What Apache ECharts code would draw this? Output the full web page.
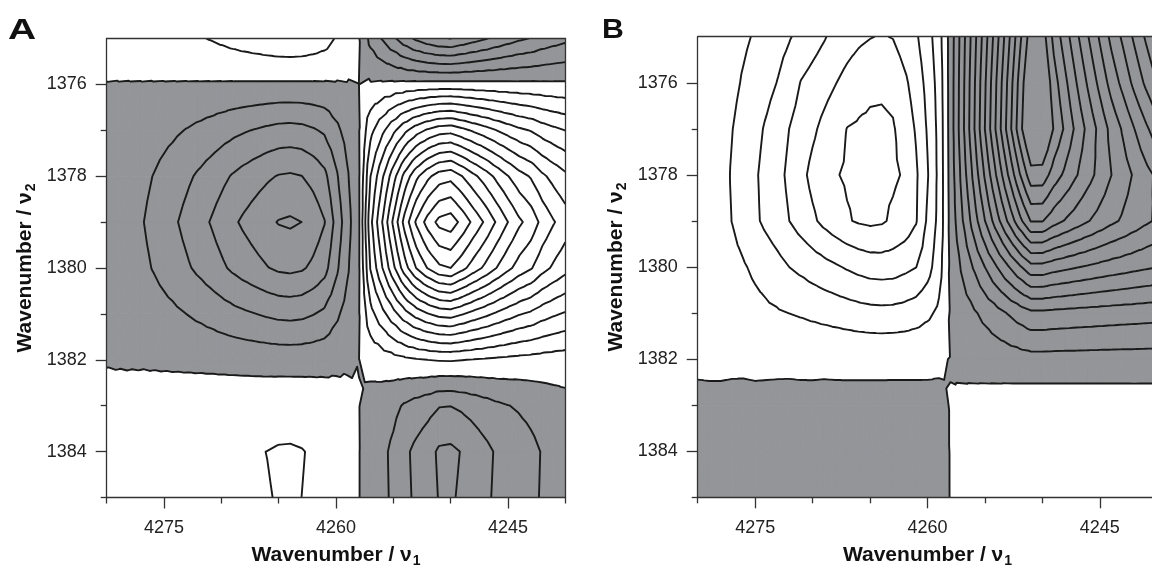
<!DOCTYPE html>
<html><head><meta charset="utf-8">
<script src="https://cdn.jsdelivr.net/npm/echarts@6/dist/echarts.min.js"></script>
<style>html,body{margin:0;padding:0;background:#fff;}#c{width:1152px;height:568px;}</style>
</head><body><div id="c"></div>
<script>
// ---------- data ----------
const rowsY = [1375,1376,1377,1378,1379,1380,1381,1382,1383,1384,1385];

// Panel A : rows 1375..1382 -> aXProfile * aYProfile ; rows 1383..1385 -> aXProfileBottom * aYProfileBottom
const aColumns = [4280,4279,4278,4277,4276,4275,4274,4273,4272,4271,4270,4269,4268,4267,4266,4265,4264,4263,4262,4261,4260,4259,4258,4257,4256,4255,4254,4253,4252,4251,4250,4249,4248,4247,4246,4245,4244,4243,4242,4241,4240];
const aXProfile = [-0.35,-0.55,-0.75,-0.92,-1.25,-1.58,-1.92,-2.28,-2.65,-3.02,-3.43,-3.84,-4.18,-4.49,-4.8,-5.05,-5.13,-5.0,-4.6,-4.04,-2.71,-1.37,-0.15,3.7,5.94,8.2,10.4,12.15,13.4,14.3,14.55,13.7,12.74,11.86,10.9,10.0,9.17,8.6,7.7,7.06,6.5];
const aYProfile = [-0.345,0.025,0.458,0.803,1.0,0.825,0.444,0.075];
const aXProfileBottom = [0.2,0.25,0.32,0.4,0.5,0.58,0.65,0.72,0.78,0.84,0.88,0.92,0.95,0.97,1.005,1.06,1.07,1.03,0.93,0.8,0.6,0.32,0.03,-0.5,-0.78,-1.2,-1.8,-2.25,-2.65,-3.15,-3.2,-2.95,-2.6,-2.25,-1.9,-1.65,-1.45,-1.22,-0.95,-0.7,-0.5];
const aYProfileBottom = [0.62,1.0,0.97];
const aLevels = [-5,-4,-3,-2,-1,0,1,2,3,4,5,6,7,8,9,10,11,12,13,14];

// Panel B, positive lobe (columns 4280..4259), one array per row
const bLeftColumns = [4280,4279,4278,4277,4276,4275,4274,4273,4272,4271,4270,4269,4268,4267,4266,4265,4264,4263,4262,4261,4260,4259];
const bLeft1375 = [0.05,0.25,0.45,0.65,0.85,1.09,1.37,1.66,1.94,2.26,2.59,2.92,3.3,3.58,3.8,3.96,4.06,3.96,3.5,3.13,2.42,1.4];
const bLeft1376 = [0.1,0.3,0.5,0.78,1.1,1.4,1.7,2.05,2.5,3.05,3.35,3.65,3.97,4.3,4.6,4.8,4.85,4.75,4.2,3.55,2.7,1.6];
const bLeft1377 = [0.15,0.4,0.65,0.98,1.35,1.73,2.13,2.56,3.02,3.42,3.83,4.25,4.63,5.02,5.12,5.18,5.17,5.08,4.62,3.9,2.9,1.7];
const bLeft1378 = [0.1,0.35,0.67,1.08,1.48,1.89,2.31,2.74,3.21,3.74,4.26,4.6,4.95,5.1,5.17,5.2,5.19,5.13,4.92,4.15,3.08,1.73];
const bLeft1379 = [0.05,0.35,0.68,1.02,1.42,1.84,2.23,2.6,3.01,3.42,3.83,4.25,4.6,4.92,5.1,5.19,5.12,4.85,4.6,4.08,2.85,1.7];
const bLeft1380 = [0.02,0.2,0.45,0.7,0.92,1.18,1.42,1.7,2.01,2.22,2.45,2.67,2.88,3.1,3.3,3.45,3.49,3.45,3.25,3.02,2.4,1.4];
const bLeft1381 = [0.02,0.1,0.25,0.4,0.55,0.7,0.82,0.92,1.01,1.1,1.2,1.3,1.4,1.5,1.6,1.67,1.7,1.68,1.6,1.45,1.2,0.8];
const bLeft1382 = [0.08,0.09,0.1,0.09,0.08,0.09,0.1,0.1,0.09,0.1,0.11,0.1,0.1,0.11,0.11,0.11,0.11,0.1,0.1,0.1,0.09,0.07];
const bLeft1383 = [-0.1,-0.1,-0.11,-0.12,-0.11,-0.1,-0.12,-0.13,-0.12,-0.12,-0.13,-0.13,-0.12,-0.13,-0.13,-0.13,-0.13,-0.12,-0.12,-0.12,-0.11,-0.1];
const bLeft1384 = [-0.2,-0.22,-0.25,-0.27,-0.28,-0.3,-0.31,-0.32,-0.33,-0.34,-0.34,-0.35,-0.35,-0.36,-0.36,-0.36,-0.36,-0.35,-0.34,-0.32,-0.28,-0.2];
const bLeft1385 = [-0.25,-0.27,-0.3,-0.32,-0.34,-0.36,-0.37,-0.38,-0.39,-0.4,-0.4,-0.41,-0.41,-0.42,-0.42,-0.42,-0.42,-0.41,-0.4,-0.37,-0.32,-0.24];
// Panel B, negative lobe (columns 4258..4240): magnitudes, value = -bRightRow[col]
const bRightColumns = [4258,4257,4256,4255,4254,4253,4252,4251,4250,4249,4248,4247,4246,4245,4244,4243,4242,4241,4240];
const bRight1375 = [0.41,2.46,4.51,6.56,8.61,10.67,12.7,14.55,14.51,12.7,11.44,10.19,9.01,7.87,6.74,5.81,4.82,3.87,3.02];
const bRight1376 = [0.43,2.57,4.72,6.87,9.02,11.16,13.3,15.23,15.18,13.43,12.2,10.97,9.82,8.71,7.62,6.7,5.73,4.81,3.96];
const bRight1377 = [0.43,2.62,4.81,7.02,9.19,11.38,13.55,15.52,15.49,13.91,12.8,11.7,10.68,9.68,8.69,7.88,7.01,6.19,5.43];
const bRight1378 = [0.38,2.3,4.22,6.14,8.06,9.98,11.88,13.61,13.58,12.52,11.77,11.04,10.34,9.68,9.01,8.45,7.88,7.32,6.81];
const bRight1379 = [0.31,1.87,3.43,4.99,6.55,8.11,9.66,11.06,11.05,10.39,9.92,9.47,9.04,8.63,8.22,7.87,7.52,7.17,6.86];
const bRight1380 = [0.19,1.13,2.07,3.01,3.95,4.9,5.83,6.68,6.67,6.41,6.23,6.05,5.88,5.71,5.55,5.42,5.27,5.14,5.01];
const bRight1381 = [0.08,0.47,0.86,1.26,1.65,2.05,2.44,2.79,2.79,2.72,2.68,2.63,2.59,2.55,2.51,2.47,2.44,2.4,2.37];
const bRight1382 = [0.02,0.11,0.2,0.29,0.38,0.48,0.57,0.65,0.65,0.64,0.63,0.63,0.62,0.61,0.61,0.6,0.6,0.59,0.59];
const bRight1383 = [-0.02,-0.1,-0.18,-0.26,-0.34,-0.43,-0.51,-0.58,-0.58,-0.57,-0.56,-0.56,-0.55,-0.55,-0.54,-0.54,-0.53,-0.53,-0.52];
const bRight1384 = [-0.02,-0.12,-0.23,-0.33,-0.43,-0.54,-0.64,-0.73,-0.73,-0.72,-0.71,-0.7,-0.69,-0.69,-0.68,-0.67,-0.67,-0.66,-0.65];
const bRight1385 = [-0.02,-0.13,-0.24,-0.35,-0.46,-0.57,-0.68,-0.78,-0.78,-0.77,-0.76,-0.75,-0.74,-0.73,-0.72,-0.72,-0.71,-0.7,-0.7];
const bLevels = [-14,-13,-12,-11,-10,-9,-8,-7,-6,-5,-4,-3,-2,-1,0,1,2,3,4,5];

// axis ticks
const xTickLabels = [4275,4260,4245];
const xMinorTicks = [4280,4270,4265,4255,4250,4240];
const yTickLabels = [1376,1378,1380,1382,1384];
const yMinorTicks = [1377,1379,1381,1383,1385];

// ---------- build grids ----------
const zA = rowsY.map((y, j) => j < aYProfile.length
  ? aXProfile.map(g => g * aYProfile[j])
  : aXProfileBottom.map(g => g * aYProfileBottom[j - aYProfile.length]));
const bLeftRows = [bLeft1375,bLeft1376,bLeft1377,bLeft1378,bLeft1379,bLeft1380,bLeft1381,bLeft1382,bLeft1383,bLeft1384,bLeft1385];
const bRightRows = [bRight1375,bRight1376,bRight1377,bRight1378,bRight1379,bRight1380,bRight1381,bRight1382,bRight1383,bRight1384,bRight1385];
const bColumns = bLeftColumns.concat(bRightColumns);
const zB = rowsY.map((y, j) => bLeftRows[j].concat(bRightRows[j].map(v => -v)));

function contour(xs, ys, Z, levels) {
  const tris = [];
  for (let j = 0; j < ys.length - 1; j++) for (let i = 0; i < xs.length - 1; i++) {
    const v = [
      {id: 'g' + i + '_' + j, x: xs[i], y: ys[j], z: Z[j][i]},
      {id: 'g' + (i + 1) + '_' + j, x: xs[i + 1], y: ys[j], z: Z[j][i + 1]},
      {id: 'g' + (i + 1) + '_' + (j + 1), x: xs[i + 1], y: ys[j + 1], z: Z[j + 1][i + 1]},
      {id: 'g' + i + '_' + (j + 1), x: xs[i], y: ys[j + 1], z: Z[j + 1][i]}];
    const c = {id: 'c' + i + '_' + j, x: (xs[i] + xs[i + 1]) / 2, y: (ys[j] + ys[j + 1]) / 2,
      z: (v[0].z + v[1].z + v[2].z + v[3].z) / 4};
    for (let k = 0; k < 4; k++) tris.push([v[k], v[(k + 1) % 4], c]);
  }
  const fills = [];
  for (const t of tris) {
    const poly = [];
    for (let k = 0; k < 3; k++) {
      const a = t[k], b = t[(k + 1) % 3];
      if (a.z < 0) poly.push([a.x, a.y]);
      if ((a.z < 0) !== (b.z < 0)) {
        const f = (0 - a.z) / (b.z - a.z);
        poly.push([a.x + f * (b.x - a.x), a.y + f * (b.y - a.y)]);
      }
    }
    if (poly.length >= 3) fills.push(poly);
  }
  const lines = [];
  for (const L of levels) {
    const segs = [];
    for (const t of tris) {
      const pts = [];
      for (let k = 0; k < 3; k++) {
        const a = t[k], b = t[(k + 1) % 3];
        if ((a.z > L) !== (b.z > L)) {
          const p = a.id < b.id ? a : b, q = a.id < b.id ? b : a;
          const f = (L - p.z) / (q.z - p.z);
          pts.push({key: p.id + '|' + q.id, x: p.x + f * (q.x - p.x), y: p.y + f * (q.y - p.y)});
        }
      }
      if (pts.length === 2) segs.push(pts);
    }
    const adj = new Map();
    segs.forEach((s, idx) => s.forEach(p => { if (!adj.has(p.key)) adj.set(p.key, []); adj.get(p.key).push(idx); }));
    const used = new Array(segs.length).fill(false);
    const nextSeg = (key) => (adj.get(key) || []).find(ix => !used[ix]);
    for (let s0 = 0; s0 < segs.length; s0++) {
      if (used[s0]) continue;
      used[s0] = true;
      const chain = [segs[s0][0], segs[s0][1]];
      let ix;
      while ((ix = nextSeg(chain[chain.length - 1].key)) !== undefined) {
        used[ix] = true;
        const s = segs[ix];
        chain.push(s[0].key === chain[chain.length - 1].key ? s[1] : s[0]);
      }
      while ((ix = nextSeg(chain[0].key)) !== undefined) {
        used[ix] = true;
        const s = segs[ix];
        chain.unshift(s[0].key === chain[0].key ? s[1] : s[0]);
      }
      lines.push(chain.map(p => [p.x, p.y]));
    }
  }
  return {fills, lines};
}

const cA = contour(aColumns, rowsY, zA, aLevels);
const cB = contour(bColumns, rowsY, zB, bLevels);

// ---------- chart ----------
const FONT = 'Liberation Sans, Arial, Helvetica, sans-serif';
const AX = '#333333';
const GREY = '#939598';
const INK = '#1a1a1a';
const plain = v => String(v);
const titleRich = {
  a: {fontSize: 21, fontWeight: 'bold', fontFamily: FONT, color: '#111', lineHeight: 26},
  b: {fontSize: 14, fontWeight: 'bold', fontFamily: FONT, color: '#111', lineHeight: 16, padding: [11, 0, 0, 1]}
};

function xAxes(g) {
  return [
    {gridIndex: g, type: 'value', min: 4240, max: 4280, inverse: true, position: 'bottom', z: 10,
      axisLine: {show: true, onZero: false, lineStyle: {color: AX, width: 1.3}},
      axisTick: {show: true, customValues: xTickLabels, length: 11, lineStyle: {color: AX, width: 1.3}},
      axisLabel: {show: true, customValues: xTickLabels, formatter: plain, fontSize: 18, color: '#222', margin: 22, fontFamily: FONT},
      splitLine: {show: false},
      name: '{a|Wavenumber / \u03bd}{b|1}', nameLocation: 'middle', nameGap: 45,
      nameTextStyle: {rich: titleRich}},
    {gridIndex: g, type: 'value', min: 4240, max: 4280, inverse: true, position: 'bottom', z: 10,
      axisLine: {show: false}, axisLabel: {show: false}, splitLine: {show: false},
      axisTick: {show: true, customValues: xMinorTicks, length: 6, lineStyle: {color: AX, width: 1.3}}},
    {gridIndex: g, type: 'value', min: 4240, max: 4280, inverse: true, position: 'top', z: 10,
      axisLine: {show: true, onZero: false, lineStyle: {color: AX, width: 1.3}},
      axisTick: {show: false}, axisLabel: {show: false}, splitLine: {show: false}}
  ];
}
function yAxes(g) {
  return [
    {gridIndex: g, type: 'value', min: 1375, max: 1385, inverse: true, position: 'left', z: 10,
      axisLine: {show: true, onZero: false, lineStyle: {color: AX, width: 1.3}},
      axisTick: {show: true, customValues: yTickLabels, length: 11, lineStyle: {color: AX, width: 1.3}},
      axisLabel: {show: true, customValues: yTickLabels, formatter: plain, fontSize: 18, color: '#222', margin: 20, fontFamily: FONT},
      splitLine: {show: false},
      name: '{a|Wavenumber / \u03bd}{b|2}', nameLocation: 'middle', nameGap: 68, nameRotate: 90,
      nameTextStyle: {rich: titleRich}},
    {gridIndex: g, type: 'value', min: 1375, max: 1385, inverse: true, position: 'left', z: 10,
      axisLine: {show: false}, axisLabel: {show: false}, splitLine: {show: false},
      axisTick: {show: true, customValues: yMinorTicks, length: 6, lineStyle: {color: AX, width: 1.3}}},
    {gridIndex: g, type: 'value', min: 1375, max: 1385, inverse: true, position: 'right', z: 10,
      axisLine: {show: true, onZero: false, lineStyle: {color: AX, width: 1.3}},
      axisTick: {show: false}, axisLabel: {show: false}, splitLine: {show: false}}
  ];
}

function fillSeries(c, ax) {
  return {type: 'custom', xAxisIndex: ax, yAxisIndex: ax, silent: true, animation: false, progressive: 0, z: 1, clip: true,
    data: c.fills.map((p, i) => [p[0][0], p[0][1], i]),
    encode: {x: 0, y: 1},
    renderItem: (params, api) => ({type: 'polygon',
      shape: {points: c.fills[params.dataIndex].map(p => api.coord(p))},
      style: {fill: GREY, stroke: GREY, lineWidth: 0.9}})};
}
function lineSeries(c, ax) {
  return {type: 'custom', xAxisIndex: ax, yAxisIndex: ax, silent: true, animation: false, progressive: 0, z: 3, clip: true,
    data: c.lines.map((p, i) => [p[0][0], p[0][1], i]),
    encode: {x: 0, y: 1},
    renderItem: (params, api) => ({type: 'polyline',
      shape: {points: c.lines[params.dataIndex].map(p => api.coord(p))},
      style: {fill: null, stroke: INK, lineWidth: 1.9, lineJoin: 'round'}})};
}

const chart = echarts.init(document.getElementById('c'), null, {renderer: 'canvas'});
chart.setOption({
  animation: false,
  backgroundColor: '#ffffff',
  grid: [
    {left: 106.7, top: 38.4, width: 458.6, height: 459.1, containLabel: false, outerBoundsMode: 'none'},
    {left: 697.7, top: 36.7, width: 459.6, height: 460.6, containLabel: false, outerBoundsMode: 'none'}
  ],
  xAxis: xAxes(0).concat(xAxes(1)),
  yAxis: yAxes(0).concat(yAxes(1)),
  graphic: [
    {type: 'text', x: 8, y: 16, scaleX: 1.3, style: {text: 'A', font: 'bold 30px ' + FONT, fill: '#111'}},
    {type: 'text', x: 602, y: 17, scaleX: 1.12, style: {text: 'B', font: 'bold 27px ' + FONT, fill: '#111'}}
  ],
  series: [fillSeries(cA, 0), lineSeries(cA, 0), fillSeries(cB, 3), lineSeries(cB, 3)]
});
</script></body></html>
